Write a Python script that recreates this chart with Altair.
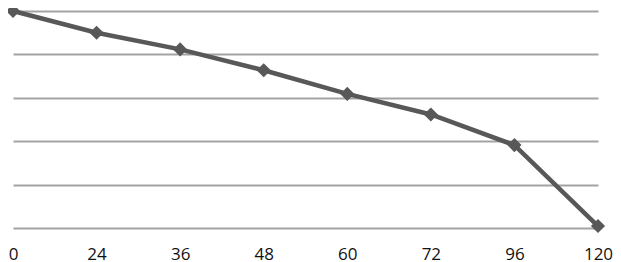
import altair as alt
import pandas as pd

hours = ["0", "24", "36", "48", "60", "72", "96", "120"]
values = [100, 90, 82.3, 72.7, 61.8, 52.3, 38.2, 0.9]

df = pd.DataFrame({"hour": hours, "value": values})

x = alt.X("hour:N", sort=hours, title=None,
          scale=alt.Scale(type="point", padding=0),
          axis=alt.Axis(labelAngle=0, ticks=False, domain=False, grid=False,
                        labelFont="Open Sans", labelFontSize=17, labelColor="#111111",
                        labelPadding=18, labelFlush=False, labelOverlap=False))
y = alt.Y("value:Q", title=None,
          scale=alt.Scale(domain=[0, 100], nice=False),
          axis=alt.Axis(values=[0, 20, 40, 60, 80, 100], labels=False, ticks=False,
                        domain=False, grid=True, gridColor="#a3a3a3", gridWidth=1.8))

line = alt.Chart(df).mark_line(color="#585858", strokeWidth=4.5).encode(x=x, y=y)
pts = alt.Chart(df).mark_point(shape="diamond", filled=True, size=200,
                               color="#585858", opacity=1).encode(x=x, y=y)

chart = (line + pts).properties(
    width=585, height=217,
    background="white",
    autosize=alt.AutoSizeParams(type="none"),
    padding={"left": 5, "top": 3, "right": 15, "bottom": 42},
).configure_view(stroke=None)

chart.save("out.html", embed_options={"renderer": "svg", "actions": False})
